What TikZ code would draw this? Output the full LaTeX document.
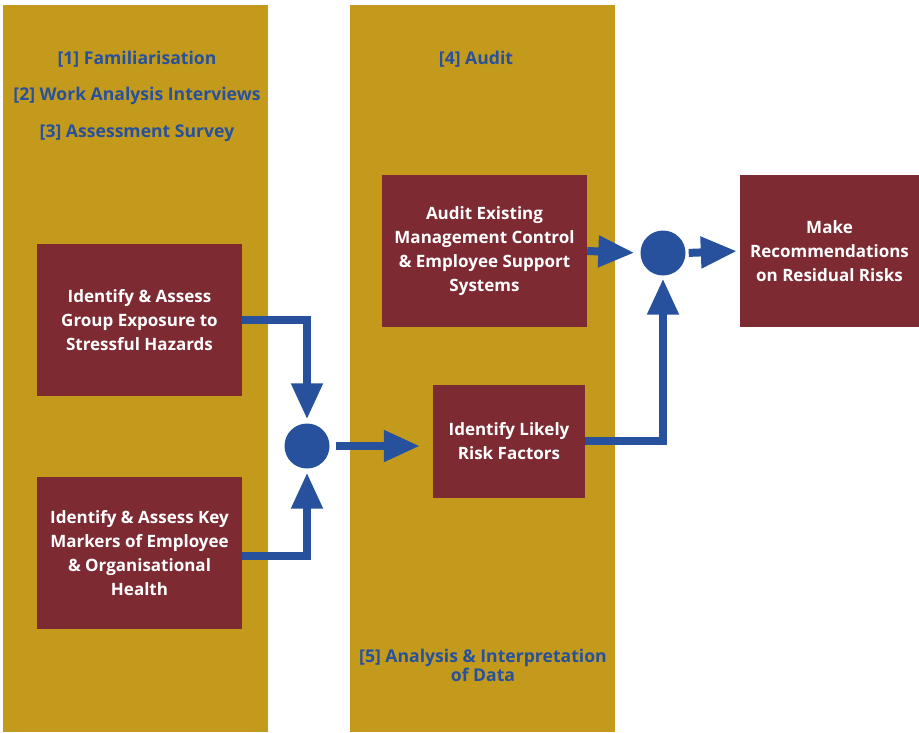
\documentclass[tikz,border=0pt]{standalone}
\usepackage{fontspec}
\setmainfont{Open Sans}
\usepackage{xcolor}
\usetikzlibrary{arrows.meta,positioning}
\definecolor{gold}{HTML}{C49A1C}
\definecolor{wine}{HTML}{7D2A33}
\definecolor{navy}{HTML}{27519C}

\begin{document}
\begin{tikzpicture}[x=1pt,y=-1pt,inner sep=0pt,
  column/.style={fill=gold,minimum width=265pt,minimum height=727pt,anchor=north west},
  task/.style={fill=wine,text=white,font=\fontsize{17}{24}\selectfont\bfseries,align=center,minimum width=205pt,minimum height=152pt},
  stage/.style={text=navy,font=\fontsize{17.6}{19}\selectfont\bfseries,align=center},
  hub/.style={circle,fill=navy,minimum size=45pt},
  flow/.style={navy,line width=8pt,-{Triangle[length=36pt,width=30pt]}}]
\useasboundingbox (0,0) rectangle (919,732);

% the two background columns
\node[column] (left) at (3,5) {};
\node[column] (mid) at (350,5) {};

\node[stage] (s1) at (137,59) {[1] Familiarisation};
\node[stage] (s2) at (137,96) {[2] Work Analysis Interviews};
\node[stage] (s3) at (137,133) {[3] Assessment Survey};
\node[stage] (s4) at (476,59) {[4] Audit};
\node[stage] (s5) at (483,665) {[5] Analysis \& Interpretation\\of Data};

\node[task] (A) at (139.5,320) {Identify \& Assess\\Group Exposure to\\Stressful Hazards};
\node[task] (B) at (139.5,553) {Identify \& Assess Key\\Markers of Employee\\\& Organisational\\Health};
\node[task] (C) at (484.5,251) {Audit Existing\\Management Control\\\& Employee Support\\Systems};
\node[task,minimum width=152pt,minimum height=113pt] (D) at (509,441) {Identify Likely\\Risk Factors};
\node[task,minimum width=179pt] (E) at (829.5,251) {Make\\Recommendations\\on Residual Risks};

\node[hub] (j1) at (307,446) {};
\node[hub] (j2) at (663,253) {};

\draw[flow,shorten >=4pt] (A.east) -| (j1.north);
\draw[flow,shorten >=4pt] ([yshift=-3pt]B.east) -| (j1.south);
\draw[flow,shorten <=6pt,shorten >=13pt] (j1.east) -- (j1 -| D.west);
\draw[flow,shorten >=6pt] (C.east) -- (j2.west);
\draw[flow,shorten >=3pt] (D.east) -| (j2.south);
\draw[flow,shorten <=3pt,shorten >=3pt] (j2.east) -- (E.west);
\end{tikzpicture}
\end{document}
